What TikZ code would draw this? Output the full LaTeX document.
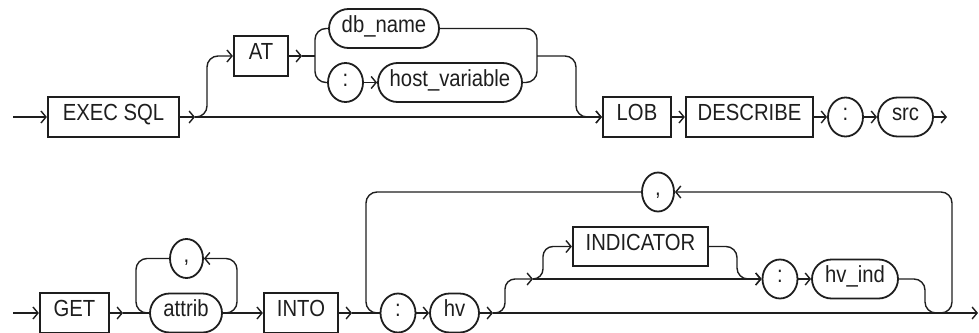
\documentclass[tikz,border=0pt]{standalone}
\usepackage{fontspec}
\setmainfont{Liberation Sans}[FakeStretch=0.87]
\usetikzlibrary{arrows.meta,shapes.geometric,shapes.misc}
\definecolor{ink}{HTML}{1E1E1E}
\tikzset{
  txt/.style={font=\fontsize{23.3}{28}\selectfont, text=ink, inner sep=0pt, text height=0.72em, text depth=0pt},
  box/.style={txt, draw=ink, line width=2.2pt, rectangle, minimum height=40pt},
  term/.style={txt, draw=ink, line width=1.8pt, rounded rectangle, minimum height=39pt},
  sym/.style={txt, draw=ink, line width=1.8pt, ellipse, minimum width=35pt, minimum height=39pt},
  ln/.style={draw=ink, line width=1.4pt},
  arr/.style={ln, -{Straight Barb[length=5pt,width=12pt]}},
  rc/.style={rounded corners=11pt}
}
\begin{document}
\begin{tikzpicture}[x=1pt,y=-1pt]
\useasboundingbox (0,0) rectangle (979,332);
% Row 1 nodes
\node[box, minimum width=131pt] (exec) at (113.5,117) {EXEC SQL};
\node[box, minimum width=54pt] (at) at (261,56) {AT};
\node[term, minimum width=110pt] (db) at (384,28.5) {db\_name};
\node[sym] (c1) at (345.5,82.5) {:};
\node[term, minimum width=144pt] (hostv) at (450,82.5) {host\_variable};
\node[box, minimum width=68pt] (lob) at (637,117) {LOB};
\node[box, minimum width=127pt] (desc) at (749.5,117) {DESCRIBE};
\node[sym] (c2) at (845.5,117) {:};
\node[term, minimum width=55pt] (src) at (905.5,117) {src};
% Row 2 nodes
\node[box, minimum width=69pt] (get) at (74.5,313) {GET};
\node[term, minimum width=72pt] (attrib) at (186,313) {attrib};
\node[sym, minimum width=33pt] (cm1) at (186.5,258.5) {,};
\node[box, minimum width=74pt] (into) at (301,313) {INTO};
\node[sym] (c3) at (398,313) {:};
\node[term, minimum width=49pt] (hv) at (454.5,313) {hv};
\node[sym, minimum width=32pt] (cm2) at (658,192) {,};
\node[box, minimum width=135pt, minimum height=39pt] (ind) at (640.5,246.5) {INDICATOR};
\node[sym] (c4) at (780,279) {:};
\node[term, minimum width=86pt] (hvind) at (855,279) {hv\_ind};
% coordinates
\coordinate (s1) at (13,117);
\coordinate (e1) at (195,117);
\coordinate (a1) at (302,56);
\coordinate (j1) at (537,56);
\coordinate (f1) at (947,117);
\coordinate (s2) at (13,313);
\coordinate (g1) at (123,313);
\coordinate (i1) at (352,313);
\coordinate (h1) at (493,313);
\coordinate (m1) at (533,279);
\coordinate (u1) at (938,313);
\coordinate (f2) at (978,313);
% Row 1 connectors
\draw[arr] (s1) -- (exec.west);
\draw[arr] (exec.east) -- (e1);
\draw[arr] (e1) -- (lob.west);
\draw[arr, rc] (e1) -- (207,117) -- (207,56) -- (at.west);
\draw[arr] (at.east) -- (a1);
\draw[ln] (a1) -- (315,56);
\draw[ln, rc] (db.west) -- (315,28.5) -- (315,82.5) -- (c1.west);
\draw[arr] (c1.east) -- (hostv.west);
\draw[ln, rc] (db.east) -- (537,28.5) -- (537,82.5) -- (hostv.east);
\draw[arr, rc] (j1) -- (576,56) -- (576,117) -- (lob.west);
\draw[arr] (lob.east) -- (desc.west);
\draw[arr] (desc.east) -- (c2.west);
\draw[arr] (c2.east) -- (src.west);
\draw[arr] (src.east) -- (f1);
% Row 2 connectors
\draw[arr] (s2) -- (get.west);
\draw[arr] (get.east) -- (g1);
\draw[ln] (g1) -- (attrib.west);
\draw[ln, rc] (cm1.west) -- (136,258.5) -- (136,313) -- (attrib.west);
\draw[arr, rc] (attrib.east) -- (237,313) -- (237,258.5) -- (cm1.east);
\draw[arr] (attrib.east) -- (into.west);
\draw[arr] (into.east) -- (i1);
\draw[ln] (i1) -- (c3.west);
\draw[ln, rc] (cm2.west) -- (366,192) -- (366,313) -- (c3.west);
\draw[arr] (c3.east) -- (hv.west);
\draw[arr] (hv.east) -- (h1);
\draw[arr] (h1) -- (f2);
\draw[arr, rounded corners=10pt] (h1) -- (505,313) -- (505,279) -- (m1);
\draw[arr] (m1) -- (c4.west);
\draw[arr, rounded corners=10pt] (m1) -- (543,279) -- (543,246.5) -- (ind.west);
\draw[arr, rc] (ind.east) -- (737,246.5) -- (737,279) -- (c4.west);
\draw[arr] (c4.east) -- (hvind.west);
\draw[ln, rc] (hvind.east) -- (925,279) -- (925,313) -- (u1);
\draw[arr, rc] (u1) -- (952,313) -- (952,192) -- (cm2.east);
\end{tikzpicture}
\end{document}
